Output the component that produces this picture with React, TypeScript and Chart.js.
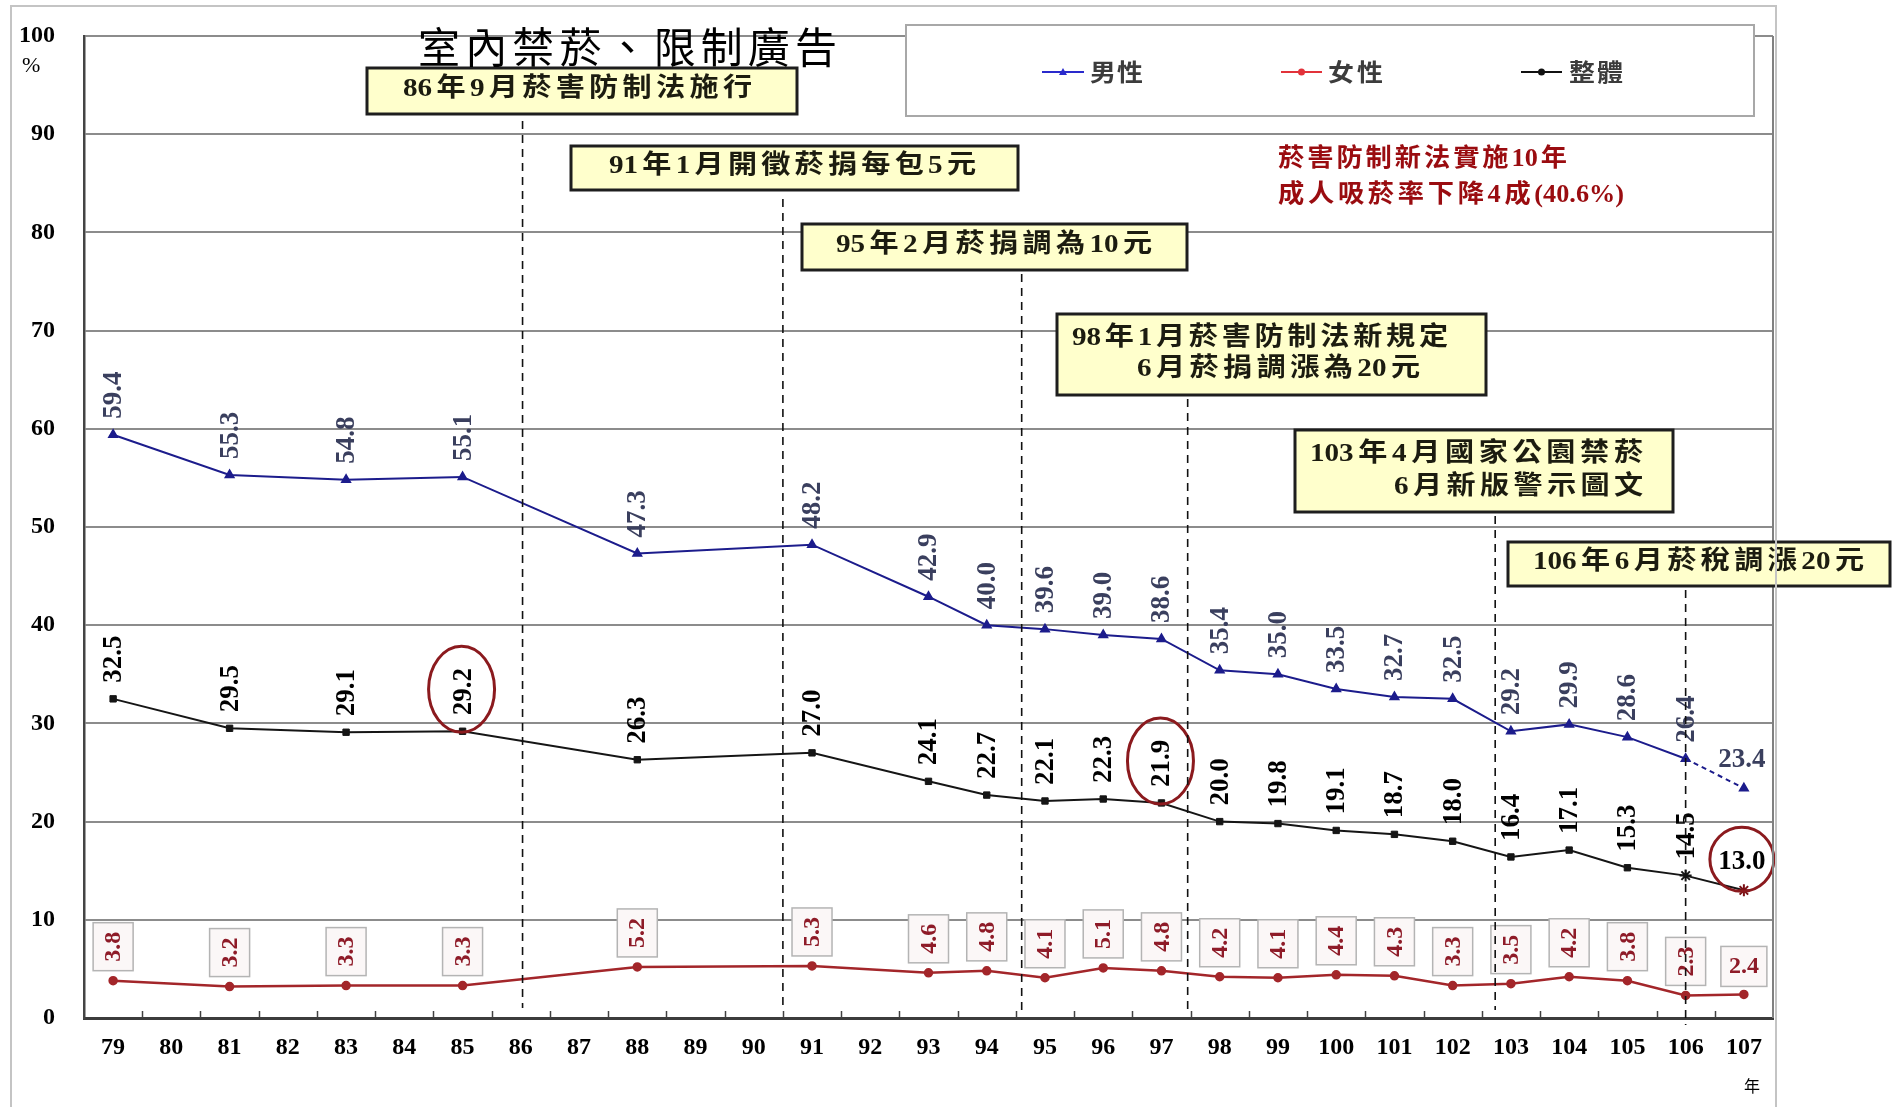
import React, { useEffect, useRef } from 'react';
import { Chart, registerables } from 'chart.js';

Chart.register(...registerables);

// ---------------- data ----------------
const years = ['79', '80', '81', '82', '83', '84', '85', '86', '87', '88', '89', '90', '91', '92', '93', '94', '95', '96', '97', '98', '99', '100', '101', '102', '103', '104', '105', '106', '107'];
const male = [59.4, null, 55.3, null, 54.8, null, 55.1, null, null, 47.3, null, null, 48.2, null, 42.9, 40.0, 39.6, 39.0, 38.6, 35.4, 35.0, 33.5, 32.7, 32.5, 29.2, 29.9, 28.6, 26.4, 23.4];
const female = [3.8, null, 3.2, null, 3.3, null, 3.3, null, null, 5.2, null, null, 5.3, null, 4.6, 4.8, 4.1, 5.1, 4.8, 4.2, 4.1, 4.4, 4.3, 3.3, 3.5, 4.2, 3.8, 2.3, 2.4];
const overall = [32.5, null, 29.5, null, 29.1, null, 29.2, null, null, 26.3, null, null, 27.0, null, 24.1, 22.7, 22.1, 22.3, 21.9, 20.0, 19.8, 19.1, 18.7, 18.0, 16.4, 17.1, 15.3, 14.5, 13.0];
const seriesNames = ['男性', '女性', '整體'];
const yMin = 0;
const yMax = 100;
const yStep = 10;
const titleText = '室內禁菸、限制廣告';
const summaryLines = ['菸害防制新法實施10年', '成人吸菸率下降4成(40.6%)'];
const eventYears = [86.03, 90.5, 94.6, 97.45, 102.73, 106.0];
const eventNotes = [
  ['86年9月菸害防制法施行'],
  ['91年1月開徵菸捐每包5元'],
  ['95年2月菸捐調為10元'],
  ['98年1月菸害防制法新規定', '6月菸捐調漲為20元'],
  ['103年4月國家公園禁菸', '6月新版警示圖文'],
  ['106年6月菸稅調漲20元'],
];
const circledOverall = [6, 18, 28];
const unitY = '%';
const unitX = '年';

// ---------------- styles / layout ----------------
const SERIF = '"Liberation Serif", "Times New Roman", serif';
const MIX = '"Liberation Serif", "Noto Sans CJK TC", serif';
const MALE_COLOR = '#1c1c8c';
const FEMALE_COLOR = '#a3262a';
const OVERALL_COLOR = '#151515';
const MALE_LABEL = '#3a3f5e';
const FEMALE_LABEL = '#8e1b28';
const LABEL_FONT = `bold 27px ${SERIF}`;
const FEMALE_FONT = `bold 24px ${SERIF}`;

const BOXES = [
  { x1: 367, y1: 68, x2: 797, y2: 114, lines: [{ x1: 403, x2: 752, y: 89 }], lineTop: 121, lineBottom: 1008 },
  { x1: 571, y1: 146, x2: 1018, y2: 190, lines: [{ x1: 609, x2: 976, y: 166 }], lineTop: 199, lineBottom: 1008 },
  { x1: 802, y1: 224, x2: 1187, y2: 270, lines: [{ x1: 836, x2: 1152, y: 245 }], lineTop: 274, lineBottom: 1012 },
  { x1: 1057, y1: 314, x2: 1486, y2: 395, lines: [{ x1: 1072, x2: 1448, y: 338 }, { x1: 1137, x2: 1420, y: 369 }], lineTop: 399, lineBottom: 1013 },
  { x1: 1295, y1: 430, x2: 1673, y2: 512, lines: [{ x1: 1310, x2: 1643, y: 454 }, { x1: 1394, x2: 1643, y: 487 }], lineTop: 516, lineBottom: 1010 },
  { x1: 1508, y1: 542, x2: 1890, y2: 586, lines: [{ x1: 1533, x2: 1864, y: 562 }], lineTop: 590, lineBottom: 1025 },
];

const fmt = (v: number) => v.toFixed(1);
const isAscii = (c: string) => c.charCodeAt(0) < 128;

// draws text spread between x1..x2; spacing only between pairs that are not both ASCII
function fitText(ctx: any, text: string, x1: number, x2: number, y: number, font: string, color: string, sx: number = 1) {
  ctx.save();
  ctx.font = font;
  ctx.fillStyle = color;
  ctx.textAlign = 'left';
  ctx.textBaseline = 'middle';
  const chars = Array.from(text);
  const widths = chars.map((c) => ctx.measureText(c).width);
  const total = widths.reduce((a, b) => a + b, 0);
  let gaps = 0;
  for (let i = 1; i < chars.length; i++) if (!(isAscii(chars[i]) && isAscii(chars[i - 1]))) gaps++;
  const sp = gaps > 0 ? ((x2 - x1) / sx - total) / gaps : 0;
  ctx.translate(x1, y);
  ctx.scale(sx, 1);
  let x = 0;
  chars.forEach((c, i) => {
    if (i > 0 && !(isAscii(c) && isAscii(chars[i - 1]))) x += sp;
    ctx.fillText(c, x, 0);
    x += widths[i];
  });
  ctx.restore();
}

function vLabel(ctx: any, text: string, x: number, y: number, font: string, color: string, align: string = 'left') {
  ctx.save();
  ctx.translate(x, y);
  ctx.rotate(-Math.PI / 2);
  ctx.font = font;
  ctx.fillStyle = color;
  ctx.textAlign = align;
  ctx.textBaseline = 'middle';
  ctx.fillText(text, 0, 0);
  ctx.restore();
}

function hLabel(ctx: any, text: string, x: number, y: number, font: string, color: string) {
  ctx.save();
  ctx.font = font;
  ctx.fillStyle = color;
  ctx.textAlign = 'center';
  ctx.textBaseline = 'middle';
  ctx.fillText(text, x, y);
  ctx.restore();
}

const overlayPlugin = {
  id: 'overlay',
  afterDatasetsDraw(chart: any) {
    const ctx = chart.ctx;
    const last = years.length - 1;
    const mMeta = chart.getDatasetMeta(0);
    const fMeta = chart.getDatasetMeta(1);
    const oMeta = chart.getDatasetMeta(2);

    male.forEach((v, i) => {
      if (v == null) return;
      const p = mMeta.data[i];
      if (i === last) hLabel(ctx, fmt(v), p.x - 2, p.y - 28, LABEL_FONT, MALE_LABEL);
      else vLabel(ctx, fmt(v), p.x + 1, p.y - 16, LABEL_FONT, MALE_LABEL);
    });
    overall.forEach((v, i) => {
      if (v == null) return;
      const p = oMeta.data[i];
      if (i === last) hLabel(ctx, fmt(v), p.x - 2, p.y - 28, LABEL_FONT, '#000');
      else vLabel(ctx, fmt(v), p.x + 1, p.y - 16, LABEL_FONT, '#000');
    });
    female.forEach((v, i) => {
      if (v == null) return;
      const p = fMeta.data[i];
      ctx.save();
      ctx.font = FEMALE_FONT;
      const w = ctx.measureText(fmt(v)).width;
      ctx.restore();
      if (i === last) {
        const bw = w + 16, bh = 40;
        const bx = p.x - bw / 2, by = p.y - 8 - bh;
        ctx.save();
        ctx.fillStyle = '#fbf7f7';
        ctx.strokeStyle = '#b4b4b4';
        ctx.lineWidth = 1.5;
        ctx.fillRect(bx, by, bw, bh);
        ctx.strokeRect(bx, by, bw, bh);
        ctx.restore();
        hLabel(ctx, fmt(v), p.x, by + bh / 2, FEMALE_FONT, FEMALE_LABEL);
      } else {
        const bw = 40, bh = w + 18;
        const bx = p.x - bw / 2, by = p.y - 10 - bh;
        ctx.save();
        ctx.fillStyle = '#fbf7f7';
        ctx.strokeStyle = '#b4b4b4';
        ctx.lineWidth = 1.5;
        ctx.fillRect(bx, by, bw, bh);
        ctx.strokeRect(bx, by, bw, bh);
        ctx.restore();
        vLabel(ctx, fmt(v), p.x + 1, by + bh / 2, FEMALE_FONT, FEMALE_LABEL, 'center');
      }
    });
    ctx.save();
    ctx.strokeStyle = '#8b1a1e';
    ctx.lineWidth = 3;
    circledOverall.forEach((i) => {
      const p = oMeta.data[i];
      ctx.beginPath();
      if (i === last) ctx.ellipse(p.x - 2, p.y - 31, 32, 32, 0, 0, Math.PI * 2);
      else ctx.ellipse(p.x - 1, p.y - 42, 33, 43, 0, 0, Math.PI * 2);
      ctx.stroke();
    });
    ctx.restore();
  },
  afterDraw(chart: any) {
    const ctx = chart.ctx;
    const xs = chart.scales.x;
    const area = chart.chartArea;

    ctx.save();
    ctx.strokeStyle = '#404040';
    ctx.lineWidth = 1.5;
    for (let i = 1; i < years.length; i++) {
      const x = Math.round(xs.getPixelForValue(i - 0.5)) + 0.5;
      ctx.beginPath();
      ctx.moveTo(x, area.bottom);
      ctx.lineTo(x, area.bottom - 7);
      ctx.stroke();
    }
    ctx.restore();

    ctx.save();
    ctx.strokeStyle = '#111';
    ctx.lineWidth = 1.6;
    ctx.setLineDash([8, 6]);
    eventYears.forEach((yr, k) => {
      const b = BOXES[k];
      const x = xs.getPixelForValue(yr - Number(years[0]));
      ctx.beginPath();
      ctx.moveTo(x, b.lineTop);
      ctx.lineTo(x, b.lineBottom);
      ctx.stroke();
    });
    ctx.restore();

    ctx.save();
    ctx.strokeStyle = '#808080';
    ctx.lineWidth = 2;
    ctx.beginPath();
    ctx.moveTo(area.right, area.top);
    ctx.lineTo(area.right, area.bottom);
    ctx.stroke();
    ctx.restore();

    eventNotes.forEach((lines, k) => {
      const b = BOXES[k];
      ctx.save();
      ctx.fillStyle = '#ffffcc';
      ctx.fillRect(b.x1, b.y1, b.x2 - b.x1, b.y2 - b.y1);
      ctx.strokeStyle = '#1e1e1e';
      ctx.lineWidth = 3;
      ctx.strokeRect(b.x1, b.y1, b.x2 - b.x1, b.y2 - b.y1);
      ctx.restore();
      lines.forEach((t, j) => {
        const L = b.lines[j];
        fitText(ctx, t, L.x1, L.x2, L.y, `bold 26px ${MIX}`, '#1c1c10', 1.12);
      });
    });

    fitText(ctx, summaryLines[0], 1278, 1567, 160, `bold 25px ${MIX}`, '#9a0c10', 1.05);
    fitText(ctx, summaryLines[1], 1278, 1624, 196, `bold 25px ${MIX}`, '#9a0c10', 1.05);

    fitText(ctx, titleText, 418, 837, 47, `42px "Noto Sans CJK TC"`, '#000', 1.0);

    ctx.save();
    ctx.fillStyle = '#ffffff';
    ctx.fillRect(906, 25, 848, 91);
    ctx.strokeStyle = '#a8a8a8';
    ctx.lineWidth = 2;
    ctx.strokeRect(906, 25, 848, 91);
    ctx.restore();
    const legendItems = [
      { name: seriesNames[0], color: '#2a2acc', lx1: 1042, lx2: 1084, tx1: 1090, tx2: 1143, shape: 'tri' },
      { name: seriesNames[1], color: '#e2323a', lx1: 1281, lx2: 1322, tx1: 1328, tx2: 1383, shape: 'dot' },
      { name: seriesNames[2], color: '#111111', lx1: 1521, lx2: 1562, tx1: 1569, tx2: 1623, shape: 'dot' },
    ];
    legendItems.forEach((it) => {
      const y = 72;
      ctx.save();
      ctx.strokeStyle = it.color;
      ctx.fillStyle = it.color;
      ctx.lineWidth = 2;
      ctx.beginPath();
      ctx.moveTo(it.lx1, y);
      ctx.lineTo(it.lx2, y);
      ctx.stroke();
      const cx = (it.lx1 + it.lx2) / 2;
      ctx.beginPath();
      if (it.shape === 'tri') {
        ctx.moveTo(cx, y - 4);
        ctx.lineTo(cx + 4, y + 3);
        ctx.lineTo(cx - 4, y + 3);
        ctx.closePath();
      } else {
        ctx.arc(cx, y, 3.5, 0, Math.PI * 2);
      }
      ctx.fill();
      ctx.restore();
      fitText(ctx, it.name, it.tx1, it.tx2, y, `bold 24px "Noto Sans CJK TC"`, '#3c3c3c', 1.08);
    });

    ctx.save();
    ctx.fillStyle = '#000';
    ctx.font = `22px ${SERIF}`;
    ctx.textAlign = 'left';
    ctx.textBaseline = 'middle';
    ctx.fillText(unitY, 22, 66);
    ctx.font = `16px "Noto Sans CJK TC"`;
    ctx.textAlign = 'center';
    ctx.fillText(unitX, 1752, 1086);
    ctx.restore();

    ctx.save();
    ctx.strokeStyle = '#c4c4c4';
    ctx.lineWidth = 2;
    ctx.beginPath();
    ctx.moveTo(11, 1107);
    ctx.lineTo(11, 6);
    ctx.lineTo(1776, 6);
    ctx.lineTo(1776, 1107);
    ctx.stroke();
    ctx.restore();
  },
};

export default function App() {
  const ref = useRef<HTMLCanvasElement | null>(null);

  useEffect(() => {
    if (!ref.current) return;
    const last = years.length - 1;
    const chart = new Chart(ref.current, {
      type: 'line',
      data: {
        labels: years,
        datasets: [
          {
            label: seriesNames[0],
            data: male,
            borderColor: MALE_COLOR,
            backgroundColor: MALE_COLOR,
            borderWidth: 2,
            pointStyle: 'triangle',
            pointRadius: 4.5,
            pointBackgroundColor: MALE_COLOR,
            pointBorderColor: MALE_COLOR,
            spanGaps: true,
            tension: 0,
            segment: {
              borderDash: (c: any) => (c.p1DataIndex === last ? [5, 4] : undefined),
            },
          },
          {
            label: seriesNames[1],
            data: female,
            borderColor: FEMALE_COLOR,
            backgroundColor: FEMALE_COLOR,
            borderWidth: 2.5,
            pointStyle: 'circle',
            pointRadius: 3.5,
            pointBackgroundColor: FEMALE_COLOR,
            pointBorderColor: FEMALE_COLOR,
            spanGaps: true,
            tension: 0,
          },
          {
            label: seriesNames[2],
            data: overall,
            borderColor: OVERALL_COLOR,
            backgroundColor: OVERALL_COLOR,
            borderWidth: 2,
            pointStyle: overall.map((_, i) => (i >= last - 1 ? 'star' : 'rect')),
            pointRadius: overall.map((_, i) => (i >= last - 1 ? 6 : 4.5)),
            pointBorderWidth: overall.map((_, i) => (i >= last - 1 ? 2 : 1)),
            pointBackgroundColor: overall.map((_, i) => (i === last ? '#7a1015' : OVERALL_COLOR)),
            pointBorderColor: overall.map((_, i) => (i === last ? '#7a1015' : OVERALL_COLOR)),
            spanGaps: true,
            tension: 0,
          },
        ],
      },
      options: {
        animation: false,
        responsive: false,
        devicePixelRatio: 1,
        layout: { padding: { left: 0, right: 123, top: 36, bottom: 0 }, autoPadding: false },
        plugins: { legend: { display: false }, tooltip: { enabled: false }, title: { display: false } },
        scales: {
          x: {
            type: 'category',
            offset: true,
            grid: { display: false, offset: true },
            border: { display: true, color: '#3c3c3c', width: 3 },
            ticks: {
              color: '#000',
              font: { family: SERIF, size: 24, weight: 'bold' },
              padding: 7,
              maxRotation: 0,
              minRotation: 0,
              autoSkip: false,
            },
            afterFit: (s: any) => {
              s.height = 89;
              s.paddingLeft = 0;
              s.paddingRight = 0;
            },
          },
          y: {
            min: yMin,
            max: yMax,
            ticks: {
              stepSize: yStep,
              color: '#000',
              font: { family: SERIF, size: 24, weight: 'bold' },
              padding: 29,
            },
            grid: { color: '#8c8c8c', lineWidth: 2, drawTicks: false },
            border: { display: true, color: '#444', width: 2.5 },
            afterFit: (s: any) => {
              s.width = 84;
              s.paddingTop = 0;
              s.paddingBottom = 0;
            },
          },
        },
      },
      plugins: [overlayPlugin],
    } as any);
    return () => chart.destroy();
  }, []);

  return (
    <div style={{ position: 'absolute', left: 0, top: 0, width: 1896, height: 1107, background: '#fff' }}>
      <canvas ref={ref} width={1896} height={1107} style={{ width: 1896, height: 1107, display: 'block' }} />
    </div>
  );
}
